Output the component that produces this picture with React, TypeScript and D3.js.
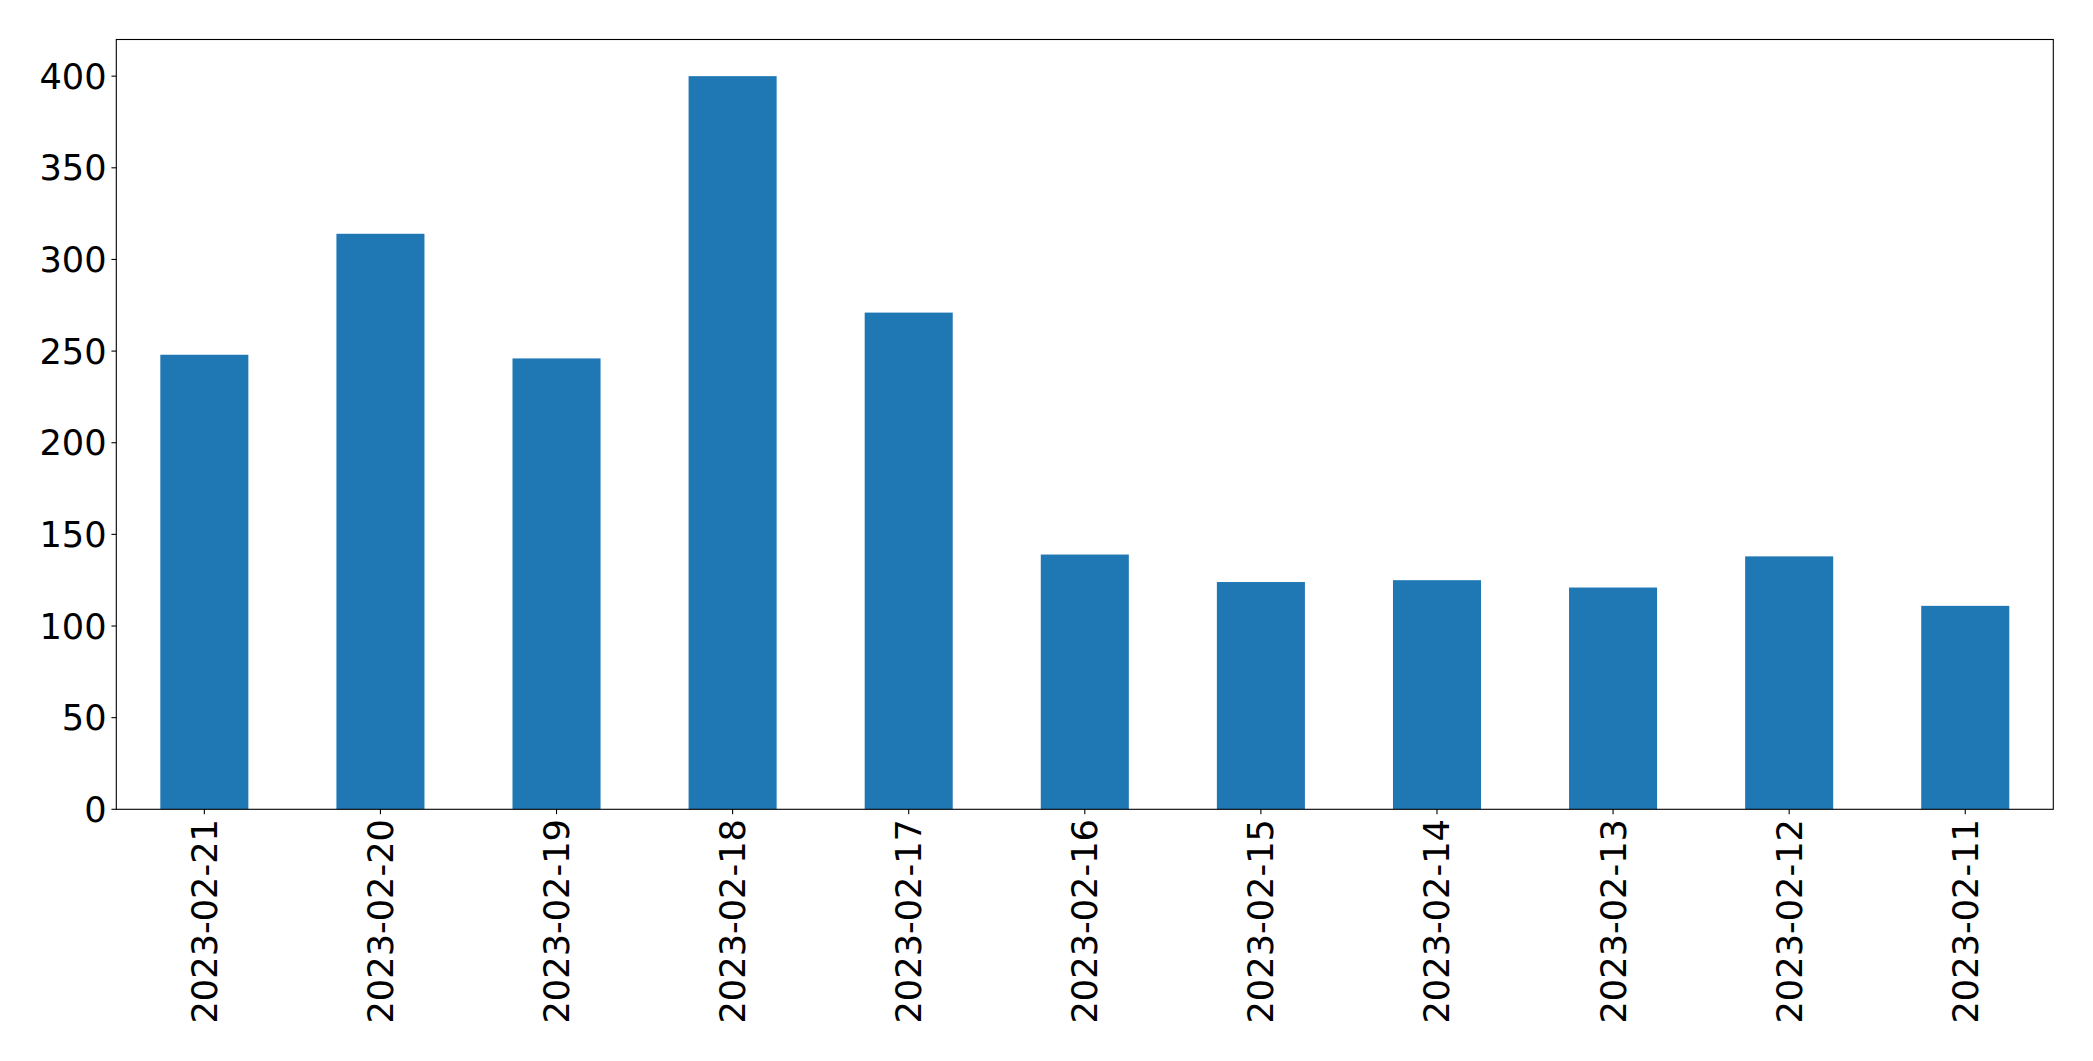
import React from "react";
import * as d3 from "d3";

const categories = ["2023-02-21","2023-02-20","2023-02-19","2023-02-18","2023-02-17","2023-02-16","2023-02-15","2023-02-14","2023-02-13","2023-02-12","2023-02-11"];
const values = [248, 314, 246, 400, 271, 139, 124, 125, 121, 138, 111];
const yTicks = [0, 50, 100, 150, 200, 250, 300, 350, 400];

export default function App() {
  const W = 2093, H = 1061;
  const left = 116.3, right = 2053.3, top = 39.5, bottom = 809.3;
  const x = d3.scaleBand<string>().domain(categories).range([left, right]).paddingInner(0.5).paddingOuter(0.25);
  const y = d3.scaleLinear().domain([0, 420]).range([bottom, top]);
  const fs = 35.2;
  const tick = 4.86;
  const font = "DejaVu Sans";
  return (
    <svg width={W} height={H} style={{ position: "absolute", left: 0, top: 0, background: "#fff" }} fontFamily={font}>
      <rect x={0} y={0} width={W} height={H} fill="#fff" />
      {categories.map((c, i) => (
        <rect key={c} x={x(c)} y={y(values[i])} width={x.bandwidth()} height={y(0) - y(values[i])} fill="#1f77b4" />
      ))}
      <rect x={left} y={top} width={right - left} height={bottom - top} fill="none" stroke="#000" strokeWidth={1.1} />
      {yTicks.map((t) => (
        <g key={t}>
          <line x1={left - tick} x2={left} y1={y(t)} y2={y(t)} stroke="#000" strokeWidth={1.1} />
          <text x={left - tick - 4.86} y={y(t)} textAnchor="end" dominantBaseline="central" fontSize={fs} fill="#000">{t}</text>
        </g>
      ))}
      {categories.map((c) => {
        const cx = (x(c) as number) + x.bandwidth() / 2;
        return (
          <g key={c}>
            <line x1={cx} x2={cx} y1={bottom} y2={bottom + tick} stroke="#000" strokeWidth={1.1} />
            <text transform={`translate(${cx},${bottom + tick + 4.86}) rotate(-90)`} textAnchor="end" dominantBaseline="central" fontSize={fs} fill="#000">{c}</text>
          </g>
        );
      })}
    </svg>
  );
}
